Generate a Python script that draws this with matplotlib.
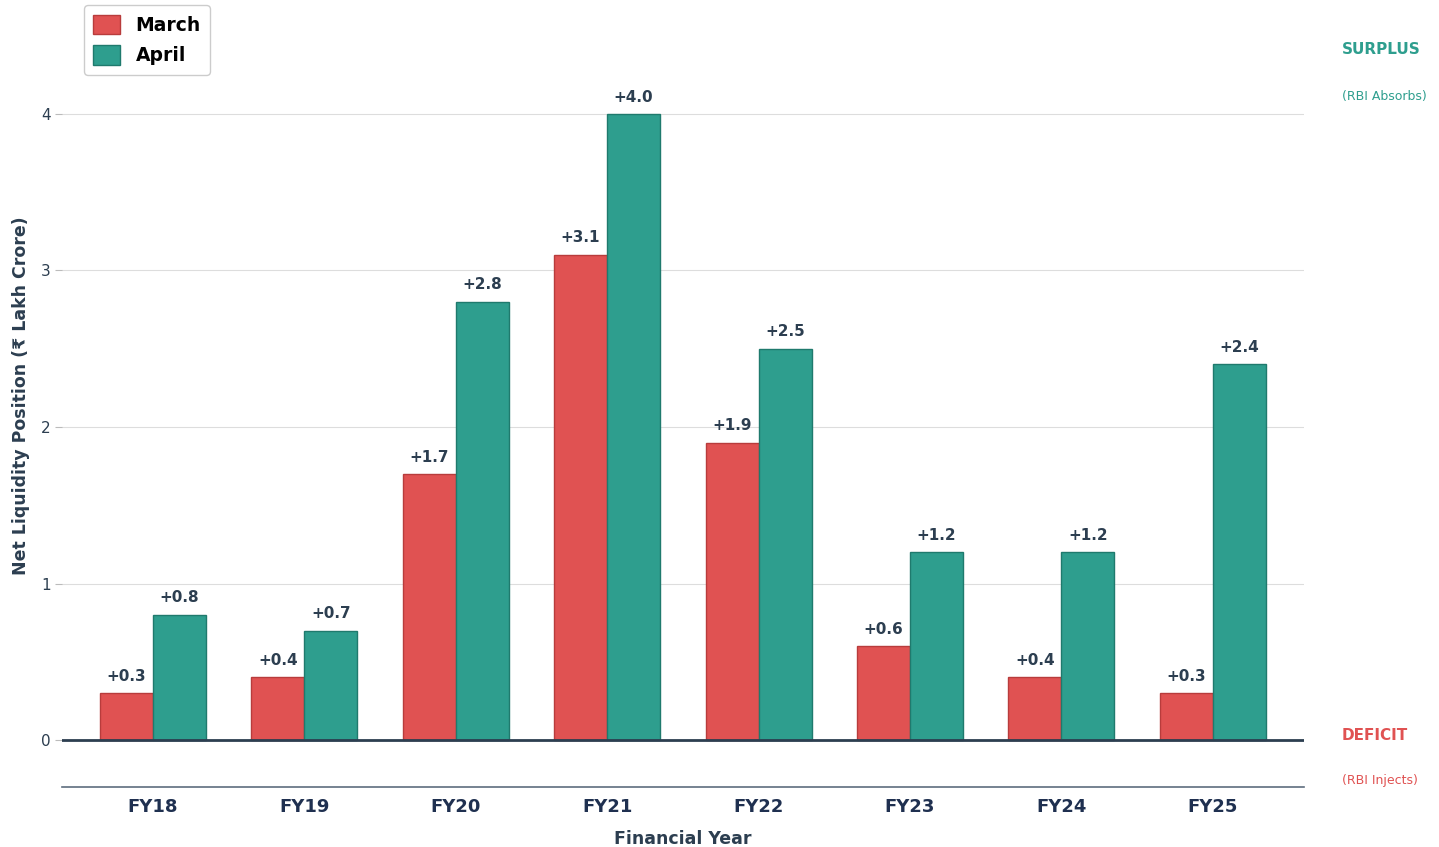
import numpy as np
import matplotlib.pyplot as plt

plt.rcParams['font.family'] = 'DejaVu Sans'

years = ['FY18', 'FY19', 'FY20', 'FY21', 'FY22', 'FY23', 'FY24', 'FY25']
march = [0.3, 0.4, 1.7, 3.1, 1.9, 0.6, 0.4, 0.3]
april = [0.8, 0.7, 2.8, 4.0, 2.5, 1.2, 1.2, 2.4]

red = '#e05252'
teal = '#2e9e8e'
dark = '#2c3e50'

fig = plt.figure(figsize=(14.39, 8.47), dpi=100)
ax = fig.add_axes([0.043, 0.0708, 0.863, 0.924])

x = np.arange(len(years))
w = 0.35
b1 = ax.bar(x - w / 2, march, w, color=red, edgecolor='#b83c3c', linewidth=1, label='March', zorder=3)
b2 = ax.bar(x + w / 2, april, w, color=teal, edgecolor='#1f7a6d', linewidth=1, label='April', zorder=3)

for bars, vals in ((b1, march), (b2, april)):
    for b, v in zip(bars, vals):
        ax.text(b.get_x() + b.get_width() / 2, v + 0.06, f'+{v:.1f}', ha='center', va='bottom',
                fontsize=11, fontweight='bold', color=dark)

ax.axhline(0, color=dark, lw=2, zorder=4)
ax.set_xlim(-0.6, 7.6)
ax.set_ylim(-0.3, 4.7)
ax.set_yticks([0, 1, 2, 3, 4])
ax.grid(axis='y', color='#dddddd', lw=0.8, zorder=0)
for s in ('top', 'right', 'left'):
    ax.spines[s].set_visible(False)
ax.spines['bottom'].set_color('#5d6d7e')
ax.spines['bottom'].set_linewidth(1.2)

ax.set_xticks(x)
ax.set_xticklabels(years, fontsize=13, fontweight='bold', color='#1f3050')
ax.tick_params(axis='x', length=0, pad=8)
ax.tick_params(axis='y', labelsize=11, labelcolor=dark, color='#bbbbbb', length=5, pad=3)
ax.set_xlabel('Financial Year', fontsize=12.5, fontweight='bold', color=dark, labelpad=10)
ax.set_ylabel('Net Liquidity Position (₹ Lakh Crore)', fontsize=12.5, fontweight='bold', color=dark, labelpad=8)

leg = ax.legend(loc='upper left', bbox_to_anchor=(0.0177, 0.999), borderaxespad=0,
                prop={'size': 13.5, 'weight': 'bold'},
                frameon=True, framealpha=1, edgecolor='#cccccc',
                handlelength=1.45, handleheight=1.25, handletextpad=0.8, labelspacing=0.55,
                borderpad=0.5)

# side annotations outside the plot area
ax.text(7.85, 4.41, 'SURPLUS', color=teal, fontsize=11, fontweight='bold', va='center', clip_on=False)
ax.text(7.85, 4.11, '(RBI Absorbs)', color=teal, fontsize=9, va='center', clip_on=False)
ax.text(7.85, 0.03, 'DEFICIT', color=red, fontsize=11, fontweight='bold', va='center', clip_on=False)
ax.text(7.85, -0.26, '(RBI Injects)', color=red, fontsize=9, va='center', clip_on=False)

fig.savefig('out.png', dpi=100)
